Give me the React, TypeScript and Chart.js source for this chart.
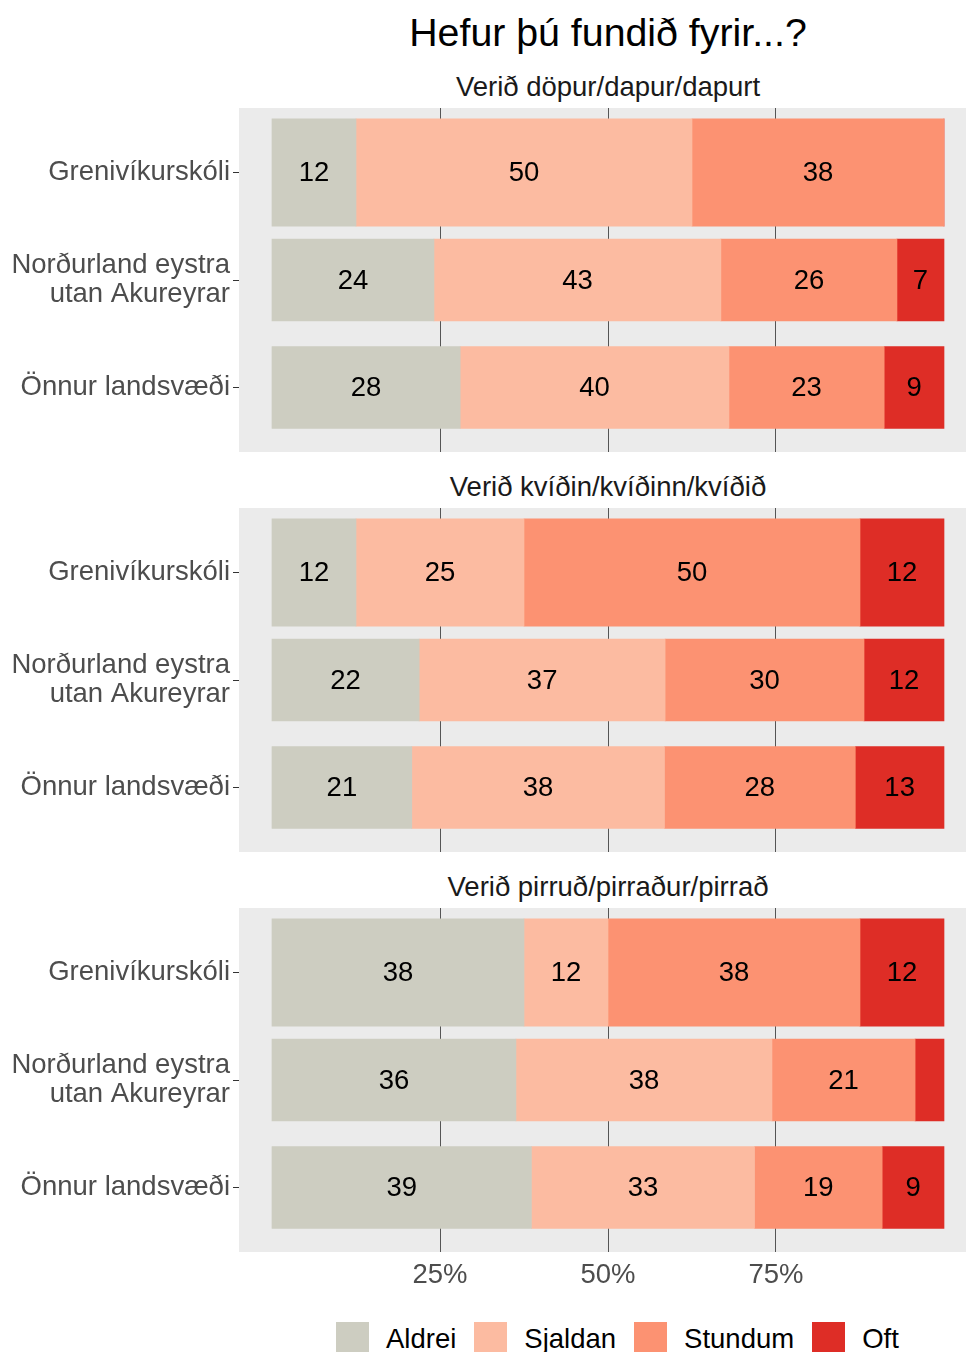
import React, { useEffect, useRef } from "react";
import { Chart, registerables } from "chart.js";

Chart.register(...registerables);

// ---------- data ----------
const chartTitle = "Hefur þú fundið fyrir...?";
const categories: string[][] = [
  ["Grenivíkurskóli"],
  ["Norðurland eystra", "utan Akureyrar"],
  ["Önnur landsvæði"],
];
const seriesNames = ["Aldrei", "Sjaldan", "Stundum", "Oft"];
const seriesColors = ["#CDCDC1", "#FCBBA1", "#FC9272", "#DE2D26"];
const xTickValues = [25, 50, 75];
const panelTitles = [
  "Verið döpur/dapur/dapurt",
  "Verið kvíðin/kvíðinn/kvíðið",
  "Verið pirruð/pirraður/pirrað",
];

// Panel 1: Verið döpur/dapur/dapurt (percent per category)
const dapurAldrei = [12.5, 24.1, 28.0];
const dapurSjaldan = [50.0, 42.7, 40.0];
const dapurStundum = [37.5, 26.2, 23.1];
const dapurOft = [0, 7.0, 8.9];

// Panel 2: Verið kvíðin/kvíðinn/kvíðið
const kvidiAldrei = [12.5, 21.9, 20.8];
const kvidiSjaldan = [25.0, 36.6, 37.6];
const kvidiStundum = [50.0, 29.6, 28.4];
const kvidiOft = [12.5, 11.9, 13.2];

// Panel 3: Verið pirruð/pirraður/pirrað
const pirrAldrei = [37.5, 36.3, 38.6];
const pirrSjaldan = [12.5, 38.1, 33.2];
const pirrStundum = [37.5, 21.3, 19.0];
const pirrOft = [12.5, 4.3, 9.2];

const panelSeries: number[][][] = [
  [dapurAldrei, dapurSjaldan, dapurStundum, dapurOft],
  [kvidiAldrei, kvidiSjaldan, kvidiStundum, kvidiOft],
  [pirrAldrei, pirrSjaldan, pirrStundum, pirrOft],
];

// ---------- layout / style ----------
const FONT = "'Liberation Sans', Arial, Helvetica, sans-serif";
const FS = 27.5;
const W = 966;
const PANEL_TOPS = [108, 508, 908];
const PANEL_H = 344;
const AXIS_W = 239;
const PAD = 30;
const X_MIN = -4.911;
const X_MAX = 103.274;
const PANEL_BG = "#EBEBEB";

function roundHalfEven(v: number): number {
  const f = Math.floor(v);
  const d = v - f;
  if (Math.abs(d - 0.5) < 1e-9) return f % 2 === 0 ? f : f + 1;
  return Math.round(v);
}

const panelBgPlugin = {
  id: "panelBg",
  beforeDraw(chart: any) {
    const { ctx, chartArea } = chart;
    ctx.save();
    ctx.fillStyle = PANEL_BG;
    ctx.fillRect(chartArea.left, chartArea.top, chartArea.right - chartArea.left, chartArea.bottom - chartArea.top);
    ctx.restore();
  },
};

const barLabelPlugin = {
  id: "barLabels",
  afterDatasetsDraw(chart: any) {
    const ctx = chart.ctx;
    ctx.save();
    ctx.font = `${FS}px ${FONT}`;
    ctx.fillStyle = "#000000";
    ctx.textAlign = "center";
    ctx.textBaseline = "middle";
    chart.data.datasets.forEach((ds: any, di: number) => {
      const meta = chart.getDatasetMeta(di);
      meta.data.forEach((el: any, i: number) => {
        const v = ds.data[i].x;
        if (v < 5) return;
        const p = el.getCenterPoint();
        ctx.fillText(String(roundHalfEven(v)), p.x, p.y + 1);
      });
    });
    ctx.restore();
  },
};

function Panel({ index, showX }: { index: number; showX: boolean }) {
  const ref = useRef<HTMLCanvasElement | null>(null);
  const height = PAD + PANEL_H + (showX ? 50 : PAD);
  useEffect(() => {
    if (!ref.current) return;
    const series = panelSeries[index];
    const datasets: any[] = [];
    series.forEach((vals, s) => {
      datasets.push({
        label: seriesNames[s],
        data: [{ x: vals[0], y: 1 }],
        backgroundColor: seriesColors[s],
        barThickness: 107.5,
        stack: "all",
        borderWidth: 0,
      });
      datasets.push({
        label: seriesNames[s],
        data: vals.slice(1).map((v, i) => ({ x: v, y: i + 2 })),
        backgroundColor: seriesColors[s],
        barThickness: 82,
        stack: "all",
        borderWidth: 0,
      });
    });
    const chart = new Chart(ref.current, {
      type: "bar",
      data: { datasets },
      options: {
        indexAxis: "y",
        responsive: false,
        animation: false,
        devicePixelRatio: 1,
        layout: { padding: { top: PAD, bottom: showX ? 0 : PAD, left: 0, right: 0 } },
        plugins: {
          legend: { display: false },
          tooltip: { enabled: false },
          title: { display: false },
        },
        scales: {
          x: {
            type: "linear",
            stacked: true,
            min: X_MIN,
            max: X_MAX,
            offset: false,
            afterBuildTicks: (s: any) => {
              s.ticks = xTickValues.map((v) => ({ value: v }));
            },
            afterFit: (s: any) => {
              s.height = showX ? 50 : 0;
            },
            grid: { color: "#555555", lineWidth: 1, drawTicks: false, offset: false },
            border: { display: false },
            ticks: {
              display: showX,
              autoSkip: false,
              maxRotation: 0,
              padding: 7,
              color: "#4D4D4D",
              font: { family: FONT, size: FS },
              callback: (v: any) => `${v}%`,
            },
          },
          y: {
            type: "linear",
            min: 0.4,
            max: 3.6,
            reverse: true,
            offset: false,
            afterBuildTicks: (s: any) => {
              s.ticks = categories.map((_, i) => ({ value: i + 1 }));
            },
            afterFit: (s: any) => {
              s.width = AXIS_W;
            },
            grid: {
              offset: false,
              drawOnChartArea: false,
              drawTicks: true,
              tickLength: 6,
              tickColor: "#333333",
              color: "#333333",
              lineWidth: 1,
            },
            border: { display: false },
            ticks: {
              autoSkip: false,
              padding: 3,
              color: "#4D4D4D",
              font: { family: FONT, size: FS, lineHeight: 1.03 },
              callback: (v: any) => categories[Math.round(v) - 1],
            },
          },
        },
      } as any,
      plugins: [panelBgPlugin, barLabelPlugin],
    });
    return () => chart.destroy();
  }, [index, showX]);
  return (
    <canvas
      ref={ref}
      width={W}
      height={height}
      style={{ position: "absolute", left: 0, top: PANEL_TOPS[index] - PAD, width: W, height }}
    />
  );
}

export default function App() {
  return (
    <div
      style={{
        position: "absolute",
        left: 0,
        top: 0,
        width: W,
        height: 1352,
        overflow: "hidden",
        background: "#FFFFFF",
        fontFamily: FONT,
      }}
    >
      <div
        style={{
          position: "absolute",
          left: 608,
          top: 32 - 19.5,
          transform: "translateX(-50%)",
          fontSize: 39.3,
          lineHeight: "39px",
          whiteSpace: "nowrap",
          color: "#000",
        }}
      >
        {chartTitle}
      </div>
      {panelTitles.map((t, i) => (
        <div
          key={t}
          style={{
            position: "absolute",
            left: 608,
            top: PANEL_TOPS[i] - 21 - 13.75,
            transform: "translateX(-50%)",
            fontSize: FS,
            lineHeight: "27.5px",
            whiteSpace: "nowrap",
            color: "#1A1A1A",
          }}
        >
          {t}
        </div>
      ))}
      {panelTitles.map((_, i) => (
        <Panel key={i} index={i} showX={i === panelTitles.length - 1} />
      ))}
      <div
        style={{
          position: "absolute",
          left: 336,
          top: 1322,
          display: "flex",
          alignItems: "center",
          whiteSpace: "nowrap",
        }}
      >
        {seriesNames.map((n, i) => (
          <div key={n} style={{ display: "flex", alignItems: "center", marginRight: 18 }}>
            <div style={{ width: 33, height: 33, background: seriesColors[i] }} />
            <div style={{ marginLeft: 17, fontSize: FS, lineHeight: "33px", color: "#000" }}>{n}</div>
          </div>
        ))}
      </div>
    </div>
  );
}
